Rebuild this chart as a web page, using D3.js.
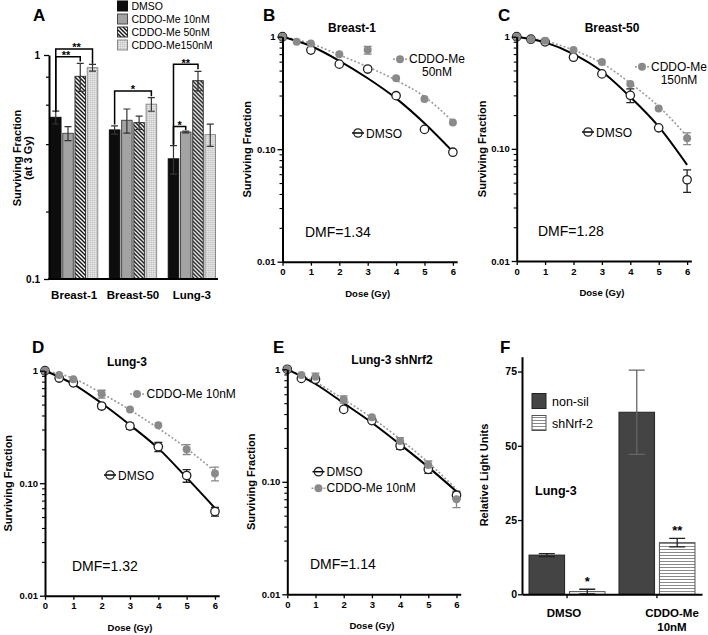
<!DOCTYPE html>
<html><head><meta charset="utf-8">
<script src="https://cdn.jsdelivr.net/npm/d3@7"></script>
<style>body{margin:0;background:#fff} svg{display:block;font-family:'Liberation Sans',Arial,Helvetica,sans-serif}</style>
</head><body>
<svg id="c" width="708" height="635"></svg>
<script>
// ================= DATA =================
// Panel A : surviving fraction at 3 Gy
const aCategories = ["Breast-1", "Breast-50", "Lung-3"];
const aSeries = ["DMSO", "CDDO-Me 10nM", "CDDO-Me 50nM", "CDDO-Me150nM"];
const aBreast1 = [0.527, 0.447, 0.803, 0.878];
const aBreast50 = [0.463, 0.511, 0.499, 0.603];
const aLung3 = [0.344, 0.453, 0.768, 0.441];
const aBreast1Err = [0.035, 0.032, 0.115, 0.03];
const aBreast50Err = [0.02, 0.063, 0.034, 0.042];
const aLung3Err = [0.05, 0.004, 0.077, 0.05];
const aYMajor = [0.1, 1];
const aYMinor = [0.2, 0.4, 0.6, 0.8];
// significance brackets: category, series from/to, bracket level, leg ends, label
const aSigCat = ["Breast-1", "Breast-1", "Breast-50", "Lung-3", "Lung-3"];
const aSigFrom = [0, 0, 0, 0, 0];
const aSigTo = [3, 2, 3, 2, 1];
const aSigLevel = [1.064, 0.983, 0.691, 0.909, 0.479];
const aSigLeftEnd = [0.56, 0.56, 0.49, 0.397, 0.397];
const aSigRightEnd = [0.915, 0.935, 0.655, 0.863, 0.462];
const aSigLabel = ["**", "**", "*", "**", "*"];

// Panels B-E : clonogenic survival
const doses = [0, 0.5, 1, 2, 3, 4, 5, 6];
const fitDoses = [0, 1, 2, 3, 4, 5, 6];
const doseTicks = [0, 1, 2, 3, 4, 5, 6];
const sfMajor = [0.01, 0.1, 1];
const sfMinor = [0.02,0.03,0.04,0.05,0.06,0.07,0.08,0.09,0.2,0.3,0.4,0.5,0.6,0.7,0.8,0.9];

const bDmso = [1, null, 0.76, 0.57, 0.516, 0.299, 0.150, 0.094];
const bDmsoErr = [0, 0, 0, 0, 0, 0, 0, 0];
const bCddo = [1, 0.90, 0.87, 0.70, 0.76, 0.427, 0.279, 0.173];
const bCddoErr = [0, 0, 0, 0, 0.06, 0, 0, 0];
const bDmsoFit = [1, 0.826, 0.61, 0.427, 0.283, 0.17, 0.095];
const bCddoFit = [1, 0.87, 0.687, 0.54, 0.41, 0.293, 0.176];

const cDmso = [1, 0.95, 0.90, 0.656, 0.466, 0.30, 0.154, 0.053];
const cDmsoErr = [0, 0, 0, 0, 0, 0.042, 0, 0.012];
const cCddo = [1, 0.95, 0.92, 0.76, 0.596, 0.378, 0.229, 0.124];
const cCddoErr = [0, 0, 0, 0, 0, 0, 0, 0.015];
const cDmsoFit = [1, 0.89, 0.70, 0.49, 0.29, 0.158, 0.072];
const cCddoFit = [1, 0.915, 0.76, 0.58, 0.385, 0.239, 0.129];

const dDmso = [1, 0.86, 0.78, 0.485, 0.322, 0.211, 0.117, 0.056];
const dDmsoErr = [0, 0, 0, 0.025, 0.02, 0.02, 0.015, 0.005];
const dCddo = [1, 0.915, 0.84, 0.62, 0.453, 0.327, 0.20, 0.122];
const dCddoErr = [0, 0, 0, 0.05, 0, 0, 0.02, 0.017];
const dDmsoFit = [1, 0.76, 0.513, 0.329, 0.204, 0.112, 0.06];
const dCddoFit = [1, 0.855, 0.63, 0.448, 0.308, 0.204, 0.127];

const eDmso = [1, 0.83, 0.815, 0.44, 0.35, 0.209, 0.129, 0.076];
const eDmsoErr = [0, 0, 0, 0, 0, 0.015, 0.01, 0.006];
const eCddo = [1, 0.89, 0.86, 0.54, 0.374, 0.23, 0.141, 0.07];
const eCddoErr = [0, 0, 0.065, 0.04, 0, 0.017, 0.012, 0.011];
const eDmsoFit = [1, 0.74, 0.50, 0.335, 0.215, 0.135, 0.082];
const eCddoFit = [1, 0.77, 0.54, 0.37, 0.24, 0.148, 0.086];

// Panel F : luciferase
const fCategories = ["DMSO", "CDDO-Me 10nM"];
const fSeries = ["non-sil", "shNrf-2"];
const fNonSil = [13.2, 61.3];
const fShNrf2 = [0.9, 17.4];
const fNonSilErr = [0.5, 14.2];
const fShNrf2Err = [0.8, 1.4];
const fStars = ["*", "**"];
const fYTicks = [0, 25, 50, 75];

// ================= DRAWING =================
const svg = d3.select("#c");
const defs = svg.append("defs");
const hatch = defs.append("pattern").attr("id", "hatch").attr("patternUnits", "userSpaceOnUse").attr("width", 4).attr("height", 4);
hatch.append("rect").attr("width", 4).attr("height", 4).attr("fill", "#fff");
hatch.append("path").attr("d", "M-1,-1L5,5M-1,3L1,5M3,-1L5,1").attr("stroke", "#111").attr("stroke-width", 1.4);
const chk = defs.append("pattern").attr("id", "checker").attr("patternUnits", "userSpaceOnUse").attr("width", 2).attr("height", 2);
chk.append("rect").attr("width", 2).attr("height", 2).attr("fill", "#d8d8d8");
chk.append("rect").attr("width", 1).attr("height", 1).attr("fill", "#c2c2c2");
chk.append("rect").attr("x", 1).attr("y", 1).attr("width", 1).attr("height", 1).attr("fill", "#e8e8e8");
const hstripe = defs.append("pattern").attr("id", "hstripe").attr("patternUnits", "userSpaceOnUse").attr("width", 4).attr("height", 3);
hstripe.append("rect").attr("width", 4).attr("height", 3).attr("fill", "#fff");
hstripe.append("rect").attr("y", 0).attr("width", 4).attr("height", 1).attr("fill", "#8a8a8a");

function panelLetter(t, x, y) {
  svg.append("text").attr("x", x).attr("y", y).attr("font-size", 17).attr("font-weight", "bold").text(t);
}
function styleAxis(g, w) {
  g.select(".domain").attr("stroke", "#000").attr("stroke-width", w);
  g.selectAll(".tick line").attr("stroke", "#000").attr("stroke-width", 1.3);
  g.selectAll(".tick text").attr("font-weight", "bold").attr("fill", "#000").attr("font-family", "'Liberation Sans',Arial,sans-serif");
}

// ---------- Panel A ----------
(function () {
  const values = [aBreast1, aBreast50, aLung3];
  const errs = [aBreast1Err, aBreast50Err, aLung3Err];
  const fills = ["#0d0d0d", "#a3a3a3", "url(#hatch)", "url(#checker)"];
  const strokes = ["#0d0d0d", "#4a4a4a", "#333", "#8a8a8a"];
  const starNudge = [2.5, -2, 0, 0, 0];
  const x0 = d3.scaleBand().domain(aCategories).range([50, 216]).paddingInner(0.18);
  const x1 = d3.scaleBand().domain(d3.range(aSeries.length)).range([0, x0.bandwidth()]).paddingInner(0.06);
  const y = d3.scaleLog().domain([0.1, 1]).range([279, 55]);
  const g = svg.append("g");
  aCategories.forEach((c, ci) => {
    const gg = g.append("g").attr("transform", `translate(${x0(c)},0)`);
    values[ci].forEach((v, si) => {
      gg.append("rect").attr("x", x1(si) + 0.5).attr("y", y(v)).attr("width", x1.bandwidth() - 1)
        .attr("height", y(0.1) - y(v)).attr("fill", fills[si]).attr("stroke", strokes[si]).attr("stroke-width", 1);
      const cx = x1(si) + x1.bandwidth() / 2, e = errs[ci][si];
      const yt = y(v + e), yb = y(v - e);
      gg.append("path").attr("d", `M${cx},${yb}V${yt}M${cx - 3.5},${yt}H${cx + 3.5}M${cx - 3.5},${yb}H${cx + 3.5}`)
        .attr("stroke", "#333").attr("stroke-width", 1.2).attr("fill", "none");
    });
  });
  // significance brackets
  aSigCat.forEach((c, i) => {
    const xl = x0(c) + x1(aSigFrom[i]) + x1.bandwidth() / 2;
    const xr = x0(c) + x1(aSigTo[i]) + x1.bandwidth() / 2;
    const yl = y(aSigLevel[i]);
    g.append("path").attr("d", `M${xl},${y(aSigLeftEnd[i])}V${yl}H${xr}V${y(aSigRightEnd[i])}`)
      .attr("fill", "none").attr("stroke", "#000").attr("stroke-width", 1.5);
    g.append("text").attr("x", (xl + xr) / 2 + starNudge[i]).attr("y", yl + 2.5).attr("text-anchor", "middle")
      .attr("font-size", 11).attr("font-weight", "bold").text(aSigLabel[i]);
  });
  // axes
  const ya = g.append("g").attr("transform", "translate(49,0)")
    .call(d3.axisLeft(y).tickValues(aYMajor).tickFormat(d => d === 1 ? "1" : "0.1").tickSize(5).tickSizeOuter(0));
  styleAxis(ya, 2);
  ya.selectAll(".tick text").attr("font-size", 10).attr("x", -9);
  const ym = g.append("g").attr("transform", "translate(49,0)")
    .call(d3.axisLeft(y).tickValues(aYMinor).tickFormat("").tickSize(3).tickSizeOuter(0));
  ym.select(".domain").remove();
  ym.selectAll(".tick line").attr("stroke", "#000").attr("stroke-width", 1.2);
  g.append("line").attr("x1", 48).attr("x2", 218).attr("y1", 279).attr("y2", 279).attr("stroke", "#000").attr("stroke-width", 2);
  aCategories.forEach(c => {
    g.append("text").attr("x", x0(c) + x0.bandwidth() / 2).attr("y", 299).attr("text-anchor", "middle")
      .attr("font-size", 11.5).attr("font-weight", "bold").text(c);
  });
  const yt = g.append("text").attr("transform", "translate(21,158) rotate(-90)").attr("text-anchor", "middle")
    .attr("font-size", 11).attr("font-weight", "bold");
  yt.append("tspan").attr("x", 0).attr("y", 0).text("Surviving Fraction");
  yt.append("tspan").attr("x", 0).attr("y", 11).text("(at 3 Gy)");
  // legend
  aSeries.forEach((s, i) => {
    const ly = 6 + i * 13;
    g.append("rect").attr("x", 117.5).attr("y", ly - 5).attr("width", 10).attr("height", 10)
      .attr("fill", fills[i]).attr("stroke", strokes[i]).attr("stroke-width", 1);
    g.append("text").attr("x", 131.5).attr("y", ly + 4).attr("font-size", 10.5).text(s);
  });
  panelLetter("A", 33, 21);
})();

// ---------- Panels B-E ----------
function survivalPanel(cfg) {
  const x = d3.scaleLinear().domain([0, 6.15]).range([cfg.x0, cfg.x0 + 6.15 * cfg.perGy]);
  const y = d3.scaleLog().domain([0.01, 1]).range([cfg.yBot, cfg.yTop]);
  const g = svg.append("g");
  const line = d3.line().x((d, i) => x(fitDoses[i])).y(d => y(d)).curve(d3.curveMonotoneX);
  g.append("path").attr("d", line(cfg.cddoFit)).attr("fill", "none").attr("stroke", "#9a9a9a")
    .attr("stroke-width", 1.6).attr("stroke-dasharray", "2,2");
  g.append("path").attr("d", line(cfg.dmsoFit)).attr("fill", "none").attr("stroke", "#000").attr("stroke-width", 2);
  function errBars(vals, errs, col) {
    vals.forEach((v, i) => {
      if (v == null || !errs[i]) return;
      const cx = x(doses[i]), yt = y(v + errs[i]), yb = y(v - errs[i]);
      g.append("path").attr("d", `M${cx},${yb}V${yt}M${cx - 4},${yt}H${cx + 4}M${cx - 4},${yb}H${cx + 4}`)
        .attr("stroke", col).attr("stroke-width", 1.3).attr("fill", "none");
    });
  }
  errBars(cfg.dmso, cfg.dmsoErr, "#222");
  errBars(cfg.cddo, cfg.cddoErr, "#888");
  cfg.dmso.forEach((v, i) => {
    if (v == null) return;
    g.append("circle").attr("cx", x(doses[i])).attr("cy", y(v)).attr("r", 4.2)
      .attr("fill", "#fff").attr("stroke", "#222").attr("stroke-width", 1.3);
  });
  cfg.cddo.forEach((v, i) => {
    if (v == null) return;
    g.append("circle").attr("cx", x(doses[i])).attr("cy", y(v)).attr("r", 4).attr("fill", "#8a8a8a");
  });
  // axes
  const ya = g.append("g").attr("transform", `translate(${cfg.x0},0)`)
    .call(d3.axisLeft(y).tickValues(sfMajor).tickFormat(d => d === 1 ? "1" : (d === 0.1 ? "0.10" : "0.01")).tickSize(5).tickSizeOuter(0));
  styleAxis(ya, 2);
  ya.selectAll(".tick text").attr("font-size", 9.5).attr("x", -7);
  const ym = g.append("g").attr("transform", `translate(${cfg.x0},0)`)
    .call(d3.axisLeft(y).tickValues(sfMinor).tickFormat("").tickSize(3).tickSizeOuter(0));
  ym.select(".domain").remove();
  ym.selectAll(".tick line").attr("stroke", "#000").attr("stroke-width", 1.1);
  const xa = g.append("g").attr("transform", `translate(0,${cfg.yBot})`)
    .call(d3.axisBottom(x).tickValues(doseTicks).tickFormat(d3.format("d")).tickSize(4).tickSizeOuter(0));
  styleAxis(xa, 2);
  xa.selectAll(".tick text").attr("font-size", 9.5).attr("y", 7);
  g.append("text").attr("x", x(3)).attr("y", cfg.yBot + 35).attr("text-anchor", "middle")
    .attr("font-size", 9.5).attr("font-weight", "bold").text("Dose (Gy)");
  g.append("text").attr("transform", `translate(${cfg.yTitleX},${(cfg.yTop + cfg.yBot) / 2}) rotate(-90)`)
    .attr("text-anchor", "middle").attr("font-size", 11).attr("font-weight", "bold").text("Surviving Fraction");
  g.append("text").attr("x", cfg.titleX).attr("y", cfg.yTop - 5).attr("text-anchor", "middle")
    .attr("font-size", 12).attr("font-weight", "bold").text(cfg.title);
  g.append("text").attr("x", cfg.dmfX).attr("y", cfg.yBot - 25).attr("font-size", 14).text(cfg.dmf);
  // legend
  const L = cfg.legend;
  g.append("line").attr("x1", L.cx - 7).attr("x2", L.cx + 7).attr("y1", L.cy).attr("y2", L.cy)
    .attr("stroke", "#9a9a9a").attr("stroke-width", 1.5).attr("stroke-dasharray", "2,2");
  g.append("circle").attr("cx", L.cx).attr("cy", L.cy).attr("r", 4).attr("fill", "#8a8a8a");
  const ct = g.append("text").attr("font-size", 12).attr("text-anchor", L.anchor);
  L.lines.forEach((t, i) => ct.append("tspan").attr("x", L.tx).attr("y", L.cy + 4 + i * 13).text(t));
  g.append("line").attr("x1", L.dx - 6).attr("x2", L.dx + 6).attr("y1", L.dy).attr("y2", L.dy)
    .attr("stroke", "#000").attr("stroke-width", 1.5);
  g.append("circle").attr("cx", L.dx).attr("cy", L.dy).attr("r", 4.2).attr("fill", "none").attr("stroke", "#222").attr("stroke-width", 1.3);
  g.append("text").attr("x", L.dx + 8).attr("y", L.dy + 4.5).attr("font-size", 12).text("DMSO");
  panelLetter(cfg.letter, cfg.letterX, cfg.letterY);
}

survivalPanel({letter: "B", letterX: 263, letterY: 21, title: "Breast-1", titleX: 352,
  x0: 282.5, perGy: 28.4, yTop: 36.7, yBot: 261.7, yTitleX: 251,
  dmso: bDmso, dmsoErr: bDmsoErr, cddo: bCddo, cddoErr: bCddoErr, dmsoFit: bDmsoFit, cddoFit: bCddoFit,
  dmf: "DMF=1.34", dmfX: 305,
  legend: {cx: 400, cy: 59.3, tx: 437, anchor: "middle", lines: ["CDDO-Me", "50nM"], dx: 358, dy: 133}});
survivalPanel({letter: "C", letterX: 498, letterY: 21, title: "Breast-50", titleX: 612,
  x0: 516.7, perGy: 28.4, yTop: 36.7, yBot: 261, yTitleX: 486,
  dmso: cDmso, dmsoErr: cDmsoErr, cddo: cCddo, cddoErr: cCddoErr, dmsoFit: cDmsoFit, cddoFit: cCddoFit,
  dmf: "DMF=1.28", dmfX: 538,
  legend: {cx: 642, cy: 66.7, tx: 679, anchor: "middle", lines: ["CDDO-Me", "150nM"], dx: 588, dy: 132}});
survivalPanel({letter: "D", letterX: 32, letterY: 353, title: "Lung-3", titleX: 127,
  x0: 45, perGy: 28.33, yTop: 370.7, yBot: 595.7, yTitleX: 12,
  dmso: dDmso, dmsoErr: dDmsoErr, cddo: dCddo, cddoErr: dCddoErr, dmsoFit: dDmsoFit, cddoFit: dCddoFit,
  dmf: "DMF=1.32", dmfX: 72,
  legend: {cx: 137, cy: 394, tx: 146.5, anchor: "start", lines: ["CDDO-Me 10nM"], dx: 110, dy: 475}});
survivalPanel({letter: "E", letterX: 273, letterY: 353, title: "Lung-3 shNrf2", titleX: 392,
  x0: 287.3, perGy: 28.2, yTop: 369.3, yBot: 594.3, yTitleX: 255,
  dmso: eDmso, dmsoErr: eDmsoErr, cddo: eCddo, cddoErr: eCddoErr, dmsoFit: eDmsoFit, cddoFit: eCddoFit,
  dmf: "DMF=1.14", dmfX: 310,
  legend: {cx: 318.5, cy: 488.3, tx: 326.5, anchor: "start", lines: ["CDDO-Me 10nM"], dx: 318.5, dy: 471.7}});

// ---------- Panel F ----------
(function () {
  const vals = [fNonSil, fShNrf2], errs = [fNonSilErr, fShNrf2Err];
  const fills = ["#444", "url(#hstripe)"], strokes = ["#222", "#555"];
  const x0 = d3.scaleBand().domain(fCategories).range([522, 702]).paddingInner(0.155).paddingOuter(0.078);
  const x1 = d3.scaleBand().domain(d3.range(fSeries.length)).range([0, x0.bandwidth()]).paddingInner(0.12);
  const y = d3.scaleLinear().domain([0, 80]).range([594.3, 356.7]);
  const g = svg.append("g");
  fCategories.forEach((c, ci) => {
    fSeries.forEach((s, si) => {
      const v = vals[si][ci], e = errs[si][ci];
      const bx = x0(c) + x1(si);
      g.append("rect").attr("x", bx).attr("y", y(v)).attr("width", x1.bandwidth()).attr("height", y(0) - y(v))
        .attr("fill", fills[si]).attr("stroke", strokes[si]).attr("stroke-width", 1);
      const cx = bx + x1.bandwidth() / 2, yt = y(v + e), yb = y(v - e);
      g.append("path").attr("d", `M${cx},${yb}V${yt}M${cx - 8},${yt}H${cx + 8}M${cx - 8},${yb}H${cx + 8}`)
        .attr("stroke", si === 0 && ci === 1 ? "#666" : "#222").attr("stroke-width", 1.3).attr("fill", "none");
      if (si === 1) {
        g.append("text").attr("x", cx).attr("y", yt - 3).attr("text-anchor", "middle")
          .attr("font-size", 13).attr("font-weight", "bold").text(fStars[ci]);
      }
    });
  });
  const ya = g.append("g").attr("transform", "translate(522,0)")
    .call(d3.axisLeft(y).tickValues(fYTicks).tickSize(4).tickSizeOuter(0));
  styleAxis(ya, 2);
  ya.selectAll(".tick text").attr("font-size", 10.5).attr("x", -5);
  const xa = g.append("g").attr("transform", "translate(0,594.3)")
    .call(d3.axisBottom(x0).tickSize(4).tickSizeOuter(0).tickFormat(""));
  styleAxis(xa, 2);
  g.append("text").attr("x", 564).attr("y", 617).attr("text-anchor", "middle").attr("font-size", 11.5).attr("font-weight", "bold").text("DMSO");
  const ct = g.append("text").attr("text-anchor", "middle").attr("font-size", 11.5).attr("font-weight", "bold");
  fCategories[1].split(" ").forEach((t, i) => ct.append("tspan").attr("x", 672).attr("y", 617 + i * 14).text(t));
  g.append("text").attr("transform", "translate(488,475) rotate(-90)").attr("text-anchor", "middle")
    .attr("font-size", 11).attr("font-weight", "bold").text("Relative Light Units");
  g.append("text").attr("x", 535).attr("y", 494.5).attr("font-size", 12.5).attr("font-weight", "bold").text("Lung-3");
  fSeries.forEach((s, i) => {
    const ly = 401 + i * 22;
    g.append("rect").attr("x", 532).attr("y", ly - 7.5).attr("width", 14).attr("height", 15)
      .attr("fill", fills[i]).attr("stroke", strokes[i]).attr("stroke-width", 1);
    g.append("text").attr("x", 552).attr("y", ly + 4.5).attr("font-size", 12.5).text(s);
  });
  panelLetter("F", 500, 353);
})();
</script>
</body></html>
